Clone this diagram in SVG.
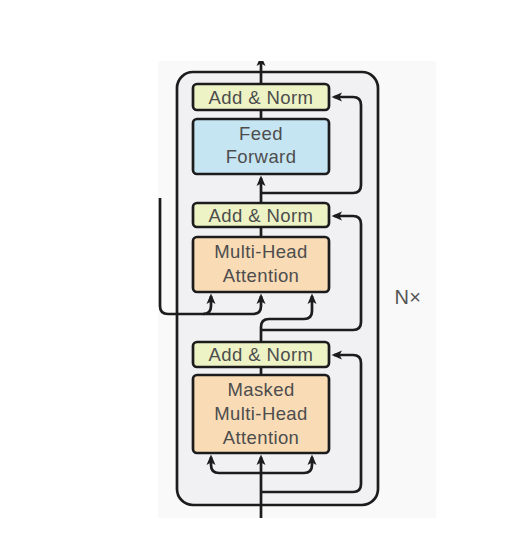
<svg xmlns="http://www.w3.org/2000/svg" width="531" height="535" viewBox="0 0 531 535">
<style>
.box{stroke:#1c1c1c;stroke-width:2.7}
.an{fill:#eef3c6}
.ff{fill:#c6e5f3}
.att{fill:#f9dcb6}
.t{font-family:"Liberation Sans",Arial,sans-serif;font-size:18.5px;fill:#4d4d4d;text-anchor:middle;letter-spacing:0.4px}
.c{fill:none;stroke:#1c1c1c;stroke-width:2.7}
</style>
<defs>
<marker id="ah" markerUnits="userSpaceOnUse" markerWidth="14" markerHeight="14" viewBox="-10 -7 14 14" refX="0" refY="0" orient="auto">
<path d="M2.5,0 L-8,-4.5 L-5.5,0 L-8,4.5 Z" fill="#1c1c1c"/>
</marker>
<clipPath id="pc"><rect x="158" y="61" width="278" height="457"/></clipPath>
</defs>
<rect width="531" height="535" fill="#ffffff"/>
<rect x="158" y="61" width="278" height="457" fill="#f9f9f9"/>
<g id="block">
<rect x="177" y="72" width="201" height="433" rx="16" fill="#f1f1f4" stroke="#1c1c1c" stroke-width="2.7"/>
</g>
<g id="connectors" clip-path="url(#pc)">
<path class="c" d="M261,83 V58" marker-end="url(#ah)"/>
<path class="c" d="M261,118 V111"/>
<path class="c" d="M261,203 V178" marker-end="url(#ah)"/>
<path class="c" d="M261,193 H353 Q361,193 361,185 V105 Q361,97 353,97 H334" marker-end="url(#ah)"/>
<path class="c" d="M261,237 V227"/>
<path class="c" d="M261,330 H353 Q361,330 361,322 V224 Q361,216 353,216 H334" marker-end="url(#ah)"/>
<path class="c" d="M160,198 V306 Q160,314 168,314 H203 Q211,314 211,306 V296" marker-end="url(#ah)"/>
<path class="c" d="M203,314 H253 Q261,314 261,306 V296" marker-end="url(#ah)"/>
<path class="c" d="M261,342 V327 Q261,319 269,319 H304 Q312,319 312,311 V296" marker-end="url(#ah)"/>
<path class="c" d="M261,375 V367"/>
<path class="c" d="M261,492 H353 Q361,492 361,484 V363 Q361,355 353,355 H334" marker-end="url(#ah)"/>
<path class="c" d="M261,520 V457" marker-end="url(#ah)"/>
<path class="c" d="M261,473 H219 Q211,473 211,465 V457" marker-end="url(#ah)"/>
<path class="c" d="M261,473 H304 Q312,473 312,465 V457" marker-end="url(#ah)"/>
</g>
<g id="addnorm1">
<rect class="box an" x="193" y="84" width="136" height="26" rx="4"/>
<text class="t" x="261" y="104">Add &amp; Norm</text>
</g>
<g id="feedforward">
<rect class="box ff" x="193" y="119" width="136" height="55" rx="4"/>
<text class="t" x="261" y="140">Feed</text>
<text class="t" x="261" y="163">Forward</text>
</g>
<g id="addnorm2">
<rect class="box an" x="193" y="203" width="136" height="24" rx="4"/>
<text class="t" x="261" y="222">Add &amp; Norm</text>
</g>
<g id="multihead">
<rect class="box att" x="193" y="237" width="136" height="55" rx="4"/>
<text class="t" x="261" y="258">Multi-Head</text>
<text class="t" x="261" y="282">Attention</text>
</g>
<g id="addnorm3">
<rect class="box an" x="193" y="342" width="136" height="25" rx="4"/>
<text class="t" x="261" y="361">Add &amp; Norm</text>
</g>
<g id="masked">
<rect class="box att" x="193" y="375" width="136" height="78" rx="4"/>
<text class="t" x="261" y="396">Masked</text>
<text class="t" x="261" y="420">Multi-Head</text>
<text class="t" x="261" y="444">Attention</text>
</g>
<text class="t" x="408" y="304" style="fill:#555;font-size:20px">N×</text>
</svg>
